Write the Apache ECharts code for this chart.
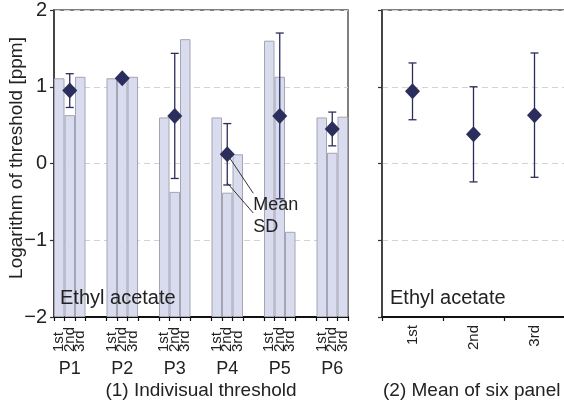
<!DOCTYPE html>
<html>
<head>
<meta charset="utf-8">
<script src="https://cdn.jsdelivr.net/npm/echarts@6/dist/echarts.min.js"></script>
<style>
  html, body { margin: 0; padding: 0; background: #fff; }
  #chart { width: 564px; height: 412px; }
</style>
</head>
<body>
<div id="chart"></div>
<script>
// Log10 odour thresholds [ppm] of ethyl acetate, three trials per panelist
const panelists   = ['P1', 'P2', 'P3', 'P4', 'P5', 'P6'];
const rounds      = ['1st', '2nd', '3rd'];
const firstTrial  = [1.11, 1.11, 0.60, 0.60, 1.60, 0.60];
const secondTrial = [0.63, 1.11, -0.37, -0.38, 1.13, 0.14];
const thirdTrial  = [1.13, 1.13, 1.62, 0.12, -0.89, 0.61];
const panelMean   = [0.95, 1.11, 0.62, 0.12, 0.62, 0.45];
const panelSD     = [0.22, 0, 0.815, 0.40, 1.08, 0.22];
// Mean of the six panelists for each trial
const roundMean   = [0.94, 0.38, 0.63];
const roundSD     = [0.37, 0.62, 0.81];
const yMin = -2, yMax = 2, yStep = 1;
const compound = 'Ethyl acetate';

const NAVY = '#2b2d5c';
const FONT = "'Liberation Sans', Arial, sans-serif";
const trials = [firstTrial, secondTrial, thirdTrial];

// One category slot per bar, with two empty slots between panelists
const slots = [];
panelists.forEach((p, g) => {
  rounds.forEach((r, k) => slots.push({ key: p + '|' + r, round: r, panel: k === 1 ? p : '', g, k }));
  if (g < panelists.length - 1) {
    slots.push({ key: 'gap' + g + 'a', round: '', panel: '', gap: true });
    slots.push({ key: 'gap' + g + 'b', round: '', panel: '', gap: true });
  }
});
const slotKeys = slots.map(s => s.key);
const barData = slots.map(s => s.gap ? '-' : trials[s.k][s.g]);
const meanKey = g => panelists[g] + '|2nd';

const minus = v => String(v).replace('-', '\u2212');

function errorBar(params, api) {
  const x = api.value(0);
  const lo = api.coord([x, api.value(1)]);
  const hi = api.coord([x, api.value(2)]);
  const cap = 4;
  const style = { stroke: NAVY, lineWidth: 1.3, fill: null };
  return {
    type: 'group',
    children: [
      { type: 'line', shape: { x1: hi[0], y1: hi[1], x2: lo[0], y2: lo[1] }, style },
      { type: 'line', shape: { x1: hi[0] - cap, y1: hi[1], x2: hi[0] + cap, y2: hi[1] }, style },
      { type: 'line', shape: { x1: lo[0] - cap, y1: lo[1], x2: lo[0] + cap, y2: lo[1] }, style }
    ]
  };
}

function valueAxis(gridIndex, showLabels) {
  return {
    type: 'value', gridIndex, min: yMin, max: yMax, interval: yStep, startValue: yMin,
    axisLine: { show: true, onZero: false, lineStyle: { color: '#333', width: 1.5 } },
    axisTick: { show: true, length: 4, lineStyle: { color: '#333', width: 1.2 } },
    axisLabel: { show: showLabels, fontSize: 20, color: '#222', fontFamily: FONT, margin: 7, formatter: minus },
    splitLine: { show: true, lineStyle: { color: '#d2d2d2', type: [6, 4], width: 1.2 } }
  };
}

const chart = echarts.init(document.getElementById('chart'), null, { renderer: 'canvas' });

const gridBase = { top: 10, height: 307, show: true, borderColor: '#555', borderWidth: 1.5,
                   backgroundColor: 'transparent', containLabel: false, outerBoundsMode: 'none' };

chart.setOption({
  animation: false,
  backgroundColor: '#fff',
  grid: [
    Object.assign({ left: 54, width: 294 }, gridBase),
    Object.assign({ left: 382, width: 183 }, gridBase)
  ],
  xAxis: [
    {
      type: 'category', gridIndex: 0, data: slotKeys,
      axisLine: { onZero: false, lineStyle: { color: '#111', width: 2 } },
      axisTick: { show: true, length: 4, lineStyle: { color: '#111', width: 1.2 },
                  interval: (i) => !slots[i].gap || (i > 0 && !slots[i - 1].gap) },
      axisLabel: { interval: 0, rotate: 90, align: 'left', margin: 35, fontSize: 15, color: '#222', fontFamily: FONT,
                   formatter: (v, i) => slots[i].round }
    },
    {
      type: 'category', gridIndex: 0, data: slotKeys, position: 'bottom',
      axisLine: { show: false, onZero: false }, axisTick: { show: false },
      axisLabel: { interval: 0, margin: 43, fontSize: 18, color: '#222', fontFamily: FONT,
                   formatter: (v, i) => slots[i].panel }
    },
    {
      type: 'category', gridIndex: 1, data: rounds,
      axisLine: { onZero: false, lineStyle: { color: '#111', width: 2 } },
      axisTick: { show: true, length: 4, lineStyle: { color: '#111', width: 1.2 } },
      axisLabel: { interval: 0, rotate: 90, margin: 8, fontSize: 15, color: '#222', fontFamily: FONT }
    }
  ],
  yAxis: [valueAxis(0, true), valueAxis(1, false)],
  series: [
    {
      type: 'bar', xAxisIndex: 0, yAxisIndex: 0, data: barData,
      barWidth: '100%', barCategoryGap: '0%',
      itemStyle: { color: '#d9dbee', borderColor: '#a4a4b2', borderWidth: 1 },
      z: 2
    },
    {
      type: 'custom', xAxisIndex: 0, yAxisIndex: 0, renderItem: errorBar,
      encode: { x: 0, y: [1, 2] },
      data: panelists.map((p, g) => panelSD[g] > 0 ? [meanKey(g), panelMean[g] - panelSD[g], panelMean[g] + panelSD[g]] : null)
                     .filter(d => d),
      z: 3
    },
    {
      type: 'scatter', xAxisIndex: 0, yAxisIndex: 0, symbol: 'diamond', symbolSize: [15, 16],
      itemStyle: { color: NAVY, opacity: 1 },
      data: panelists.map((p, g) => [meanKey(g), panelMean[g]]),
      z: 4
    },
    {
      type: 'custom', xAxisIndex: 2, yAxisIndex: 1, renderItem: errorBar,
      encode: { x: 0, y: [1, 2] },
      data: rounds.map((r, i) => [r, roundMean[i] - roundSD[i], roundMean[i] + roundSD[i]]),
      z: 3
    },
    {
      type: 'scatter', xAxisIndex: 2, yAxisIndex: 1, symbol: 'diamond', symbolSize: [15, 16],
      itemStyle: { color: NAVY, opacity: 1 },
      data: rounds.map((r, i) => [r, roundMean[i]]),
      z: 4
    }
  ]
});

// Callouts naming the marker and the whisker, attached to panelist P4
const calloutPanel = 3;
const meanPt = chart.convertToPixel({ xAxisIndex: 0, yAxisIndex: 0 }, [meanKey(calloutPanel), panelMean[calloutPanel]]);
const sdPt = chart.convertToPixel({ xAxisIndex: 0, yAxisIndex: 0 },
  [meanKey(calloutPanel), panelMean[calloutPanel] - panelSD[calloutPanel]]);
const label = (s, size, extra) => Object.assign({ text: s, fontSize: size, fill: '#222', fontFamily: FONT, verticalAlign: 'middle' }, extra);

chart.setOption({
  graphic: [
    { type: 'line', shape: { x1: meanPt[0], y1: meanPt[1], x2: meanPt[0] + 26, y2: meanPt[1] + 39 },
      style: { stroke: '#333', lineWidth: 1 }, z: 10 },
    { type: 'line', shape: { x1: sdPt[0], y1: sdPt[1] - 2, x2: sdPt[0] + 26, y2: sdPt[1] + 28 },
      style: { stroke: '#333', lineWidth: 1 }, z: 10 },
    { type: 'text', x: meanPt[0] + 26, y: meanPt[1] + 51, style: label('Mean', 18), z: 10 },
    { type: 'text', x: sdPt[0] + 26, y: sdPt[1] + 42, style: label('SD', 18), z: 10 },
    { type: 'text', x: 60, y: 298, style: label(compound, 20), z: 10 },
    { type: 'text', x: 390, y: 298, style: label(compound, 20), z: 10 },
    { type: 'text', x: 17, y: 158, rotation: Math.PI / 2,
      style: label('Logarithm of threshold [ppm]', 19, { align: 'center' }), z: 10 },
    { type: 'text', x: 201, y: 391, style: label('(1) Indivisual threshold', 19, { align: 'center' }) },
    { type: 'text', x: 383, y: 391, style: label('(2) Mean of six panel', 19) }
  ]
});
</script>
</body>
</html>
